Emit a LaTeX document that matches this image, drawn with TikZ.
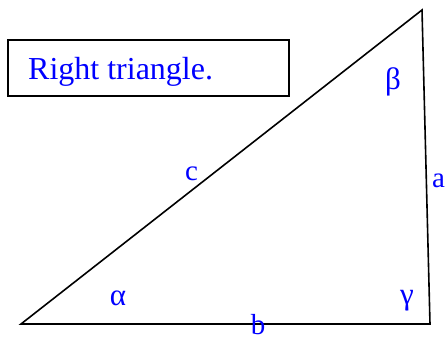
\documentclass[tikz,border=0pt]{standalone}
\usepackage{fontspec}
\setmainfont{Liberation Serif}
\begin{document}
\begin{tikzpicture}[x=1pt,y=-1pt,
  edge/.style={draw=black,line width=1.6pt,line join=miter},
  lbl/.style={text=blue,inner sep=0pt,font=\fontsize{29}{29}\selectfont},
  greek/.style={lbl,font=\fontsize{31}{31}\selectfont},
  titlebox/.style={draw=black,line width=1.8pt,fill=white}]
\useasboundingbox (0,0) rectangle (445,337);
\coordinate (A) at (21,324);
\coordinate (C) at (430,324);
\coordinate (B) at (422,10);
\draw[edge] (A) -- (C) -- (B) -- cycle;
\draw[titlebox] (8,40) rectangle (289,96);
\node[text=blue,inner sep=0pt,anchor=base west,font=\fontsize{32}{32}\selectfont] (t) at (28,80) {Right triangle.};
\node[greek] (beta) at (393,82) {β};
\node[lbl] (a) at (438.5,181) {a};
\node[lbl] (c) at (191.5,174) {c};
\node[greek] (alpha) at (118,298) {α};
\node[greek] (gamma) at (407,301) {γ};
\node[lbl] (b) at (258,325) {b};
\end{tikzpicture}
\end{document}
